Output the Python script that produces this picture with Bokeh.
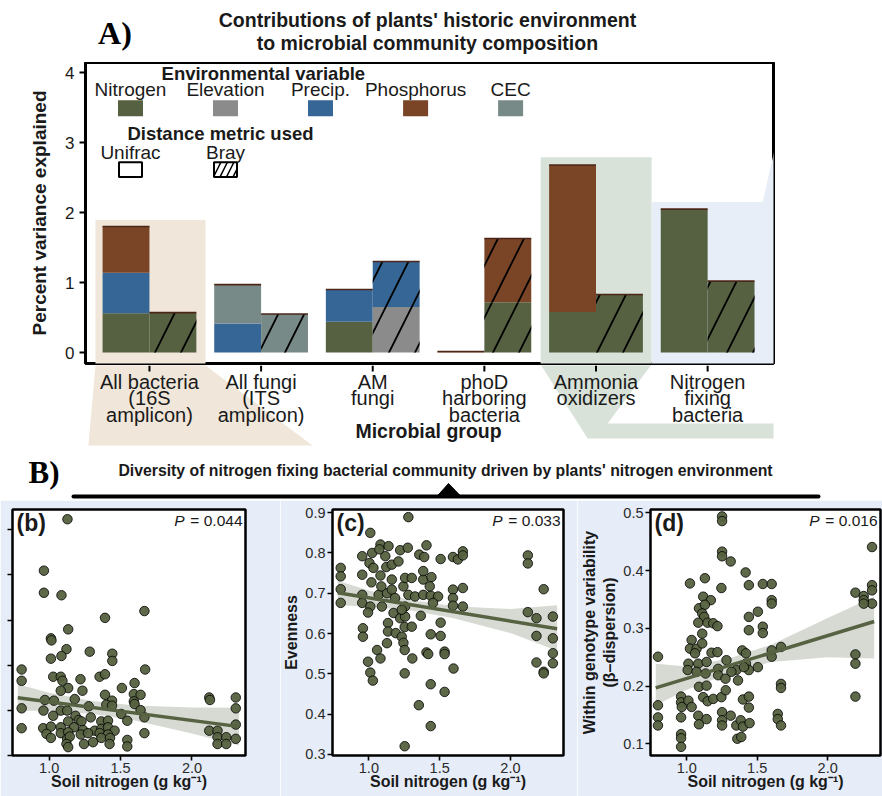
import numpy as np
from bokeh.plotting import figure
from bokeh.layouts import column, row
from bokeh.models import (ColumnDataSource, Range1d, FixedTicker, Label, BoxAnnotation,
                          PolyAnnotation, NumeralTickFormatter)
from bokeh.transform import dodge
from bokeh.embed import file_html
from bokeh.resources import INLINE

FONT = "Liberation Sans"
SERIF = "Liberation Serif"
TXT = "#1a1a1a"
BG_B = "#e6edf8"

# ------------------------------------------------------------------ panel A data
groups = ["All bacteria\n(16S\namplicon)", "All fungi\n(ITS\namplicon)", "AM\nfungi",
          "phoD\nharboring\nbacteria", "Ammonia\noxidizers", "Nitrogen\nfixing\nbacteria"]
group_pos = [1, 2, 3, 4, 5, 6]
variables = ["Nitrogen", "Elevation", "Precip.", "Phosphorus", "CEC"]
var_keys = ["Nitrogen", "Elevation", "Precip", "Phosphorus", "CEC"]
var_colors = ["#566141", "#8b8b8b", "#366696", "#7a4527", "#788a87"]
metrics = ["Unifrac", "Bray"]

unifrac_nitrogen = [0.56, 0.00, 0.44, 0.00, 0.58, 2.05]
unifrac_elevation = [0.00, 0.00, 0.00, 0.00, 0.00, 0.00]
unifrac_precip = [0.58, 0.415, 0.46, 0.00, 0.00, 0.00]
unifrac_phosphorus = [0.66, 0.00, 0.00, 0.015, 2.10, 0.00]
unifrac_cec = [0.00, 0.555, 0.00, 0.00, 0.00, 0.00]

bray_nitrogen = [0.57, 0.00, 0.00, 0.72, 0.83, 1.02]
bray_elevation = [0.00, 0.00, 0.65, 0.00, 0.00, 0.00]
bray_precip = [0.00, 0.00, 0.65, 0.00, 0.00, 0.00]
bray_phosphorus = [0.00, 0.00, 0.00, 0.91, 0.00, 0.00]
bray_cec = [0.00, 0.55, 0.00, 0.00, 0.00, 0.00]

y_ticks_A = [0, 1, 2, 3, 4]

# ------------------------------------------------------------------ panel B data
b_x = [1.128, 0.963, 0.963, 1.086, 1.667, 1.391, 1.133, 1.012, 1.016, 1.121, 1.284, 1.442, 1.086,
       1.012, 1.442, 0.807, 1.672, 0.807, 1.028, 1.081, 1.093, 1.219, 1.353, 1.391, 1.598, 1.509,
       1.133, 1.081, 1.233, 1.593, 1.640, 1.391, 0.970, 1.033, 1.179, 1.440, 1.593, 2.121, 2.126,
       2.307, 0.807, 0.960, 1.081, 1.126, 1.277, 1.400, 1.440, 1.598, 1.640, 2.307, 1.028, 1.184,
       1.291, 1.505, 1.547, 1.667, 1.207, 1.133, 1.226, 1.365, 1.412, 0.807, 0.958, 1.012, 1.081,
       1.174, 1.237, 1.319, 1.365, 1.412, 1.458, 2.307, 2.121, 2.179, 0.981, 1.081, 1.133, 1.221,
       1.272, 1.353, 1.412, 1.667, 1.012, 1.126, 1.144, 1.365, 1.426, 1.547, 2.307, 2.179, 2.240,
       1.121, 1.244, 1.307, 1.423, 1.547, 2.179, 2.240, 1.133]
b_y = [104.7, 81.9, 72.1, 71.0, 64.0, 61.0, 55.9, 51.9, 51.0, 47.1, 46.0, 45.1, 44.1,
       42.9, 41.9, 38.1, 38.1, 33.1, 34.9, 34.9, 33.1, 33.8, 34.9, 36.0, 32.1, 29.9,
       29.9, 28.7, 28.7, 27.2, 26.9, 26.9, 24.6, 24.3, 25.0, 24.3, 24.0, 25.7, 24.6,
       25.7, 20.9, 19.9, 19.9, 19.9, 21.8, 22.5, 22.1, 22.8, 20.1, 20.9, 17.6, 17.6,
       16.9, 18.4, 15.4, 16.9, 15.7, 15.1, 15.1, 15.1, 15.4, 12.1, 12.1, 12.8, 12.5,
       12.5, 11.3, 11.0, 11.8, 12.5, 11.0, 13.7, 11.0, 11.0, 9.6, 9.9, 10.3, 9.3,
       9.9, 9.9, 9.3, 9.9, 7.8, 7.4, 8.4, 7.8, 7.8, 6.9, 7.4, 8.1, 8.1,
       5.1, 5.1, 5.9, 5.1, 4.0, 5.1, 5.1, 3.7]
b_fit_x = [0.78, 2.33]
b_fit_y = [25.6, 12.8]
b_ci_x = [0.78, 1.0, 1.3, 1.6, 2.0, 2.33]
b_ci_lo = [19.8, 19.8, 18.5, 15.5, 9.7, 4.4]
b_ci_hi = [31.6, 27.8, 24.1, 22.1, 21.3, 21.2]
b_yticks = [0, 20, 40, 60, 80, 100]

c_x = [1.279, 1.010, 0.801, 0.801, 0.801, 0.801, 0.953, 1.023, 1.082, 1.139, 1.116, 1.074, 1.221,
       1.275, 1.004, 1.032, 0.953, 1.018, 1.082, 1.123, 1.162, 1.209, 1.407, 1.356, 1.391, 1.507,
       1.594, 1.629, 1.664, 1.664, 2.123, 2.123, 0.953, 0.953, 1.010, 0.994, 1.069, 1.092, 1.128,
       1.088, 1.162, 1.185, 1.244, 1.256, 1.303, 1.384, 1.442, 1.384, 1.279, 1.326, 1.384, 1.437,
       1.489, 1.453, 1.367, 1.256, 1.174, 1.221, 1.256, 1.135, 1.135, 1.128, 1.058, 1.082, 0.958,
       0.958, 0.994, 1.010, 1.028, 1.190, 1.232, 1.253, 1.244, 1.253, 1.303, 1.307, 1.253, 1.407,
       1.419, 1.437, 1.507, 1.507, 1.535, 1.535, 1.598, 1.535, 1.437, 1.353, 1.437, 1.253, 1.594,
       1.594, 1.594, 1.664, 1.664, 2.123, 2.184, 2.184, 2.235, 2.300, 2.300, 2.300, 2.300, 2.184,
       2.235, 2.235, 1.430, 1.162, 1.232]
c_y = [0.889, 0.850, 0.763, 0.742, 0.710, 0.676, 0.792, 0.800, 0.821, 0.817, 0.792, 0.809, 0.807,
       0.813, 0.775, 0.763, 0.746, 0.727, 0.744, 0.765, 0.771, 0.779, 0.819, 0.796, 0.790, 0.785,
       0.790, 0.784, 0.804, 0.794, 0.794, 0.774, 0.696, 0.676, 0.667, 0.652, 0.696, 0.667, 0.700,
       0.717, 0.709, 0.688, 0.717, 0.738, 0.738, 0.734, 0.740, 0.755, 0.696, 0.692, 0.696, 0.694,
       0.692, 0.676, 0.644, 0.667, 0.651, 0.638, 0.642, 0.626, 0.605, 0.576, 0.559, 0.538, 0.613,
       0.592, 0.530, 0.503, 0.483, 0.601, 0.592, 0.616, 0.577, 0.559, 0.617, 0.538, 0.501, 0.553,
       0.549, 0.598, 0.627, 0.594, 0.555, 0.549, 0.513, 0.455, 0.474, 0.422, 0.370, 0.320, 0.709,
       0.688, 0.669, 0.713, 0.667, 0.653, 0.638, 0.594, 0.710, 0.642, 0.588, 0.551, 0.526, 0.528,
       0.505, 0.501, 0.717, 0.734, 0.659]
c_fit_x = [0.78, 2.33]
c_fit_y = [0.701, 0.612]
c_ci_x = [0.78, 1.0, 1.3, 1.6, 2.0, 2.33]
c_ci_lo = [0.670, 0.667, 0.657, 0.638, 0.601, 0.557]
c_ci_hi = [0.731, 0.707, 0.683, 0.668, 0.661, 0.670]
c_yticks = [0.3, 0.4, 0.5, 0.6, 0.7, 0.8, 0.9]

d_x = [1.251, 1.251, 1.251, 1.251, 1.312, 1.246, 1.129, 1.023, 1.418, 1.441, 1.540, 1.603, 1.603,
       1.603, 2.315, 2.315, 2.315, 2.315, 2.197, 2.256, 2.256, 2.256, 1.117, 1.171, 1.087, 1.129,
       1.110, 1.124, 1.082, 1.148, 1.188, 1.218, 1.110, 1.441, 1.505, 1.540, 1.540, 1.441, 1.035,
       1.023, 1.070, 1.110, 1.059, 1.176, 1.218, 1.603, 1.603, 1.669, 1.394, 1.420, 1.012, 1.082,
       1.141, 1.282, 1.223, 1.352, 1.420, 1.441, 1.505, 1.007, 1.070, 1.134, 1.223, 1.275, 1.317,
       1.406, 1.087, 1.141, 1.669, 1.669, 2.197, 2.197, 2.197, 0.796, 0.796, 0.796, 0.796, 0.960,
       0.960, 0.965, 0.960, 1.012, 1.035, 0.960, 0.960, 0.960, 1.117, 1.148, 1.188, 1.246, 1.082,
       1.087, 1.141, 1.277, 1.251, 1.251, 1.312, 1.251, 1.352, 1.383, 1.359, 1.387, 1.399, 1.446,
       1.399, 1.441, 1.441, 1.646, 1.646, 1.669, 1.364]
d_y = [0.494, 0.486, 0.433, 0.425, 0.416, 0.370, 0.387, 0.378, 0.397, 0.375, 0.377, 0.377, 0.349,
       0.343, 0.441, 0.375, 0.366, 0.343, 0.362, 0.356, 0.349, 0.343, 0.355, 0.349, 0.335, 0.341,
       0.326, 0.320, 0.310, 0.310, 0.309, 0.304, 0.291, 0.320, 0.329, 0.303, 0.292, 0.297, 0.280,
       0.265, 0.265, 0.274, 0.257, 0.258, 0.259, 0.262, 0.251, 0.268, 0.262, 0.257, 0.239, 0.239,
       0.242, 0.245, 0.230, 0.228, 0.239, 0.228, 0.233, 0.228, 0.225, 0.222, 0.219, 0.213, 0.225,
       0.233, 0.199, 0.201, 0.204, 0.197, 0.255, 0.239, 0.182, 0.251, 0.167, 0.146, 0.132, 0.182,
       0.172, 0.164, 0.146, 0.175, 0.164, 0.117, 0.110, 0.095, 0.181, 0.174, 0.178, 0.181, 0.149,
       0.134, 0.143, 0.193, 0.155, 0.141, 0.149, 0.132, 0.132, 0.141, 0.109, 0.112, 0.130, 0.136,
       0.177, 0.182, 0.163, 0.152, 0.143, 0.132, 0.210]
d_fit_x = [0.78, 2.33]
d_fit_y = [0.197, 0.312]
d_ci_x = [0.78, 1.0, 1.3, 1.6, 2.0, 2.33]
d_ci_lo = [0.167, 0.194, 0.222, 0.242, 0.250, 0.248]
d_ci_hi = [0.239, 0.234, 0.248, 0.272, 0.318, 0.355]
d_yticks = [0.1, 0.2, 0.3, 0.4, 0.5]

x_ticks_B = [1.0, 1.5, 2.0]

# ------------------------------------------------------------------ helpers
def lab(p, x, y, text, size, style="normal", align="center", baseline="middle",
        font=FONT, color=TXT, x_offset=0):
    p.add_layout(Label(x=x, y=y, text=text, text_font=font, text_font_size=f"{size}px",
                       text_font_style=style, text_align=align, text_baseline=baseline,
                       text_color=color, x_offset=x_offset))


def strip(width, height, x_range, y_range, left=0, right=0):
    p = figure(width=width, height=height, x_range=x_range, y_range=y_range,
               output_backend="svg", toolbar_location=None, title=None,
               x_axis_type=None, y_axis_type=None,
               min_border_left=left, min_border_right=right, min_border_top=0,
               min_border_bottom=0, outline_line_color=None,
               background_fill_color="white", border_fill_color="white")
    p.xgrid.visible = False
    p.ygrid.visible = False
    return p


W = 882
LB = 85
RB = W - 773
XRA = Range1d(0.427, 6.59)

# ------------------------------------------------------------------ A: title strip
pT = strip(W, 62, XRA, Range1d(62, 0), LB, RB)
lab(pT, 3.49, 19, "Contributions of plants' historic environment", 19.5, style="bold")
lab(pT, 3.49, 42, "to microbial community composition", 19.5, style="bold")
lab(pT, 0.54, 32, "A)", 32, style="bold", align="left", font=SERIF, color="black")

# ------------------------------------------------------------------ A: bar chart
pA = figure(width=W, height=365 - 62, x_range=XRA, y_range=Range1d(-0.157, 4.145),
            output_backend="svg", toolbar_location=None, title=None,
            min_border_left=LB, min_border_right=RB,
            min_border_top=0, min_border_bottom=2,
            background_fill_color="white", border_fill_color="white",
            outline_line_color="black", outline_line_width=3)
pA.xgrid.visible = False
pA.ygrid.visible = False

# watermark shapes (decoration, inside the frame)
pA.add_layout(PolyAnnotation(xs=[0.516, 1.502, 1.502, 0.516], ys=[1.895, 1.895, -0.3, -0.3],
                             fill_color="#f0e7da", fill_alpha=1, line_color=None, level="underlay"))
pA.add_layout(PolyAnnotation(xs=[4.504, 5.498, 5.498, 4.504], ys=[2.792, 2.792, -0.3, -0.3],
                             fill_color="#d8e2d8", fill_alpha=1, line_color=None, level="underlay"))
pA.add_layout(PolyAnnotation(xs=[5.498, 6.493, 6.690, 6.690, 5.498],
                             ys=[2.151, 2.151, 3.533, -0.3, -0.3],
                             fill_color="#e7eef8", fill_alpha=1, line_color=None, level="underlay"))

uni = dict(x=group_pos, Nitrogen=unifrac_nitrogen, Elevation=unifrac_elevation,
           Precip=unifrac_precip, Phosphorus=unifrac_phosphorus, CEC=unifrac_cec)
uni["total"] = list(np.sum([uni[k] for k in var_keys], axis=0))
bra = dict(x=group_pos, Nitrogen=bray_nitrogen, Elevation=bray_elevation,
           Precip=bray_precip, Phosphorus=bray_phosphorus, CEC=bray_cec)
bra["total"] = list(np.sum([bra[k] for k in var_keys], axis=0))
src_u = ColumnDataSource(uni)
src_b = ColumnDataSource(bra)

BW = 0.42
pA.vbar_stack(var_keys, x=dodge("x", -BW / 2), width=BW, fill_color=var_colors,
              line_color=None, source=src_u)
pA.vbar_stack(var_keys, x=dodge("x", BW / 2), width=BW, fill_color=var_colors,
              line_color=None, hatch_pattern="/", hatch_color="black", hatch_weight=1.8,
              hatch_scale=52, hatch_alpha=1.0, source=src_b)
pA.segment(x0=dodge("x", -BW), x1="x", y0="total", y1="total", line_color="#4b2619",
           line_width=1.6, source=src_u)
pA.segment(x0="x", x1=dodge("x", BW), y0="total", y1="total", line_color="#4b2619",
           line_width=1.6, source=src_b)

pA.yaxis.ticker = FixedTicker(ticks=y_ticks_A)
pA.yaxis.axis_label = "Percent variance explained"
pA.yaxis.axis_label_text_font = FONT
pA.yaxis.axis_label_text_font_style = "bold"
pA.yaxis.axis_label_text_font_size = "19px"
pA.yaxis.axis_label_text_color = TXT
pA.yaxis.axis_label_standoff = 12
pA.yaxis.major_label_text_font = FONT
pA.yaxis.major_label_text_font_size = "17px"
pA.yaxis.major_label_text_color = TXT
pA.yaxis.major_label_standoff = 5
pA.yaxis.axis_line_color = None
pA.yaxis.major_tick_out = 6
pA.yaxis.major_tick_in = 0
pA.yaxis.major_tick_line_width = 2
pA.yaxis.minor_tick_line_color = None
pA.xaxis.visible = False

# legend (inside plot)
leg_x = [0.830, 1.681, 2.532, 3.384, 4.235]
lab(pA, 2.02, 3.99, "Environmental variable", 18.5, style="bold")
for lx, name, col in zip(leg_x, variables, var_colors):
    lab(pA, lx, 3.76, name, 19)
    pA.add_layout(BoxAnnotation(left=lx - 0.112, right=lx + 0.112, bottom=3.376, top=3.604,
                                fill_color=col, fill_alpha=1, line_color=None, level="overlay"))
lab(pA, 1.636, 3.134, "Distance metric used", 18.5, style="bold")
for lx, name in zip(leg_x[:2], metrics):
    lab(pA, lx, 2.863, name, 19)
pA.add_layout(BoxAnnotation(left=leg_x[0] - 0.103, right=leg_x[0] + 0.103, bottom=2.507, top=2.721,
                            fill_color="white", fill_alpha=1, line_color="black", line_width=2,
                            line_alpha=1, level="overlay"))
pA.add_layout(BoxAnnotation(left=leg_x[1] - 0.103, right=leg_x[1] + 0.103, bottom=2.507, top=2.721,
                            fill_color="white", fill_alpha=1, line_color="black", line_width=2,
                            line_alpha=1, hatch_pattern="/", hatch_color="black",
                            hatch_weight=1.5, hatch_scale=13, level="overlay"))

# ------------------------------------------------------------------ A: category strip (below frame)
pX = strip(W, 455 - 365, XRA, Range1d(455, 365), LB, RB)
pX.patch(x=[0.516, 1.502, 1.502, 2.461, 0.453, 0.516], y=[364, 364, 365, 445, 445, 365],
         fill_color="#f0e7da", line_color=None)
pX.patch(x=[4.504, 5.498, 5.104, 6.690, 6.690, 4.925], y=[364, 364, 423, 423, 438, 438],
         fill_color="#d8e2d8", line_color=None)
pX.segment(x0=group_pos, x1=group_pos, y0=[365] * 6, y1=[371] * 6, line_color="black",
           line_width=2)
for gx, g in zip(group_pos, groups):
    for j, line in enumerate(g.split("\n")):
        lab(pX, gx, 381 + 16.5 * j, line, 20)
lab(pX, 3.5, 430, "Microbial group", 19.5, style="bold")

# ------------------------------------------------------------------ strip with B title
pM = strip(W, 500 - 455, Range1d(0, 882), Range1d(500, 455))
lab(pM, 28, 472, "B)", 31, style="bold", align="left", font=SERIF, color="black")
lab(pM, 445, 470, "Diversity of nitrogen fixing bacterial community driven by plants' nitrogen environment",
    15.8, style="bold")
pM.segment(x0=[73], x1=[818], y0=[496], y1=[496], line_color="black", line_width=4,
           line_cap="round")
pM.patch(x=[436, 448, 461], y=[496.5, 483, 496.5], fill_color="black", line_color="black")

# ------------------------------------------------------------------ scatter panels
HB = 796 - 500
TOPB = 509 - 500
BOTB = 796 - 755
XR = (0.743, 2.375)
PT_FILL = "#55613f"
FIT_COL = "#566242"


def scatter_panel(xs, ys, fit_x, fit_y, ci_x, ci_lo, ci_hi, yr, yticks, ylabel, tag, ptext,
                  width, left, right, show_ylabels=True):
    p = figure(width=width, height=HB, x_range=Range1d(*XR), y_range=Range1d(*yr),
               output_backend="svg", toolbar_location=None, title=None,
               min_border_left=left, min_border_right=right,
               min_border_top=TOPB, min_border_bottom=BOTB,
               background_fill_color="white", border_fill_color=BG_B,
               outline_line_color="black", outline_line_width=2.5)
    p.xgrid.visible = False
    p.ygrid.visible = False
    p.varea(x=ci_x, y1=ci_lo, y2=ci_hi, fill_color="#c5cbbf", fill_alpha=0.7)
    p.scatter(xs, ys, size=9.5, fill_color=PT_FILL, line_color="black", line_width=0.8,
              fill_alpha=0.95)
    p.line(fit_x, fit_y, line_color=FIT_COL, line_width=3.5)

    p.xaxis.ticker = FixedTicker(ticks=x_ticks_B)
    p.xaxis.formatter = NumeralTickFormatter(format="0.0")
    p.xaxis.axis_label = "Soil nitrogen (g kg\u207b\u00b9)"
    p.xaxis.axis_label_standoff = -3
    p.xaxis.major_label_standoff = 2
    if show_ylabels:
        p.yaxis.ticker = FixedTicker(ticks=yticks)
        p.yaxis.formatter = NumeralTickFormatter(format="0.0")
        p.yaxis.axis_label = ylabel
        p.yaxis.axis_label_standoff = 2
        p.yaxis.major_label_standoff = 2
    else:
        # tick labels of this panel are cut off in the reference: ticks only
        p.yaxis.ticker = FixedTicker(ticks=[], minor_ticks=yticks)
    for ax in (p.xaxis, p.yaxis):
        ax.axis_line_color = None
        ax.major_tick_out = 5
        ax.major_tick_in = 0
        ax.major_tick_line_width = 1.6
        ax.axis_label_text_font = FONT
        ax.axis_label_text_font_style = "bold"
        ax.axis_label_text_font_size = "16px"
        ax.axis_label_text_color = TXT
        ax.major_label_text_font = FONT
        ax.major_label_text_font_size = "14.5px"
        ax.major_label_text_color = "#2a2a2a"
    p.xaxis.minor_tick_line_color = None
    if show_ylabels:
        p.yaxis.minor_tick_line_color = None
    else:
        p.yaxis.minor_tick_out = 5
        p.yaxis.minor_tick_in = 0
        p.yaxis.minor_tick_line_width = 1.6
        p.yaxis.minor_tick_line_color = "black"
    yspan = yr[1] - yr[0]
    lab(p, XR[0], yr[1] - 0.055 * yspan, tag, 23, style="bold", align="left", x_offset=4)
    lab(p, XR[1], yr[1] - 0.045 * yspan, "= " + ptext, 15.5, align="right", x_offset=-3)
    lab(p, XR[1], yr[1] - 0.045 * yspan, "P", 15.5, style="italic", align="right", x_offset=-61)
    return p


pb = scatter_panel(b_x, b_y, b_fit_x, b_fit_y, b_ci_x, b_ci_lo, b_ci_hi, (0, 109), b_yticks,
                   "", "(b)", "0.044", 280, 12, 280 - 245, show_ylabels=False)
pc = scatter_panel(c_x, c_y, c_fit_x, c_fit_y, c_ci_x, c_ci_lo, c_ci_hi, (0.297, 0.908), c_yticks,
                   "Evenness", "(c)", "0.033", 577 - 280, 331 - 280, 577 - 563)
pd = scatter_panel(d_x, d_y, d_fit_x, d_fit_y, d_ci_x, d_ci_lo, d_ci_hi, (0.080, 0.506), d_yticks,
                   "Within genotype variability\n(\u03b2\u2013dispersion)", "(d)", "0.016", W - 577,
                   648 - 577, W - 880)

layout = column(pT, pA, pX, row(pM), row(pb, pc, pd))
open("out.html", "w").write(file_html(layout, INLINE))
